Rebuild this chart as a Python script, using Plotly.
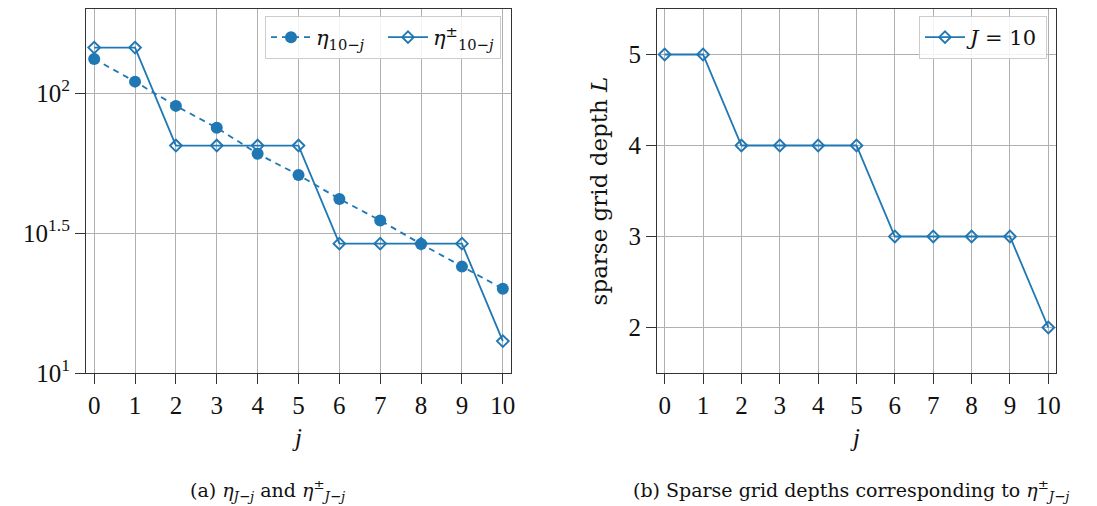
import plotly.graph_objects as go

j = list(range(11))
eta = [132.6, 110.0, 90.1, 75.2, 60.8, 51.0, 41.9, 35.1, 28.9, 24.0, 20.0]
eta_pm = [145.6, 145.6, 65.0, 65.0, 65.0, 65.0, 29.0, 29.0, 29.0, 29.0, 13.0]
depth = [5, 5, 4, 4, 4, 4, 3, 3, 3, 3, 2]

C = "#1f77b4"
NUM = "Liberation Serif"
TXT = "DejaVu Serif"
W, H = 1097, 506

fig = go.Figure()
fig.add_trace(go.Scatter(
    x=j, y=eta, mode="lines+markers", name="<i>η</i><sub>10−<i>j</i></sub>",
    line=dict(color=C, width=1.8, dash="6px,5px"),
    marker=dict(symbol="circle", size=12, color=C),
    xaxis="x", yaxis="y", legend="legend"))
fig.add_trace(go.Scatter(
    x=j, y=eta_pm, mode="lines+markers", name="<i>η</i><sup>±</sup><sub>10−<i>j</i></sub>",
    line=dict(color=C, width=1.8),
    marker=dict(symbol="diamond-open", size=9, color=C, line=dict(width=1.9, color=C)),
    xaxis="x", yaxis="y", legend="legend"))
fig.add_trace(go.Scatter(
    x=j, y=depth, mode="lines+markers", name="<i>J</i> = 10",
    line=dict(color=C, width=1.8),
    marker=dict(symbol="diamond-open", size=9, color=C, line=dict(width=1.9, color=C)),
    xaxis="x2", yaxis="y2", legend="legend2"))

ax_common = dict(showline=True, mirror=True, linecolor="#333333", linewidth=1.2,
                 showgrid=True, gridcolor="#b0b0b0", gridwidth=1, automargin=False,
                 ticks="outside", ticklen=10, tickcolor="#333333", zeroline=False,
                 tickfont=dict(family=NUM, size=25, color="#111"))

fig.update_layout(
    width=W, height=H, margin=dict(l=0, r=0, t=0, b=0, autoexpand=False),
    paper_bgcolor="white", plot_bgcolor="white",
    font=dict(family=TXT, color="#111"),
    xaxis=dict(domain=[86/W, 511/W], range=[-0.2, 10.2], tickvals=j, anchor="y",
               title=dict(text="<i>j</i>", font=dict(family=NUM, size=25), standoff=10), **ax_common),
    yaxis=dict(domain=[1-373/H, 1-9/H], type="log", range=[1, 2.301], anchor="x",
               tickvals=[10, 10**1.5, 100],
               ticktext=["10<sup>1</sup>", "10<sup>1.5</sup>", "10<sup>2</sup>"], **ax_common),
    xaxis2=dict(domain=[657/W, 1056/W], range=[-0.2, 10.2], tickvals=j, anchor="y2",
                title=dict(text="<i>j</i>", font=dict(family=NUM, size=25), standoff=10), **ax_common),
    yaxis2=dict(domain=[1-373/H, 1-9/H], range=[1.5, 5.5], anchor="x2", tickvals=[2, 3, 4, 5],
                title=dict(text="sparse grid depth <i>L</i>", font=dict(family=TXT, size=23), standoff=14),
                **ax_common),
    legend=dict(x=501/W, y=1-16/H, xanchor="right", yanchor="top", orientation="h",
                entrywidth=62, entrywidthmode="pixels", itemwidth=40,
                bgcolor="rgba(255,255,255,0.85)", bordercolor="#cccccc", borderwidth=1,
                font=dict(family=TXT, size=21)),
    legend2=dict(x=1047/W, y=1-16/H, xanchor="right", yanchor="top", itemwidth=40,
                 bgcolor="rgba(255,255,255,0.85)", bordercolor="#cccccc", borderwidth=1,
                 font=dict(family=TXT, size=21)),
    showlegend=True,
)

fig.add_annotation(x=267/W, y=1-490/H, xref="paper", yref="paper", showarrow=False,
                   xanchor="center", yanchor="middle",
                   text="(a) <i>η</i><sub><i>J</i>−<i>j</i></sub> and <i>η</i><sup>±</sup><sub><i>J</i>−<i>j</i></sub>",
                   font=dict(family=TXT, size=19, color="#111"))
fig.add_annotation(x=851/W, y=1-490/H, xref="paper", yref="paper", showarrow=False,
                   xanchor="center", yanchor="middle",
                   text="(b) Sparse grid depths corresponding to <i>η</i><sup>±</sup><sub><i>J</i>−<i>j</i></sub>",
                   font=dict(family=TXT, size=19, color="#111"))

fig.write_html("out.html")
